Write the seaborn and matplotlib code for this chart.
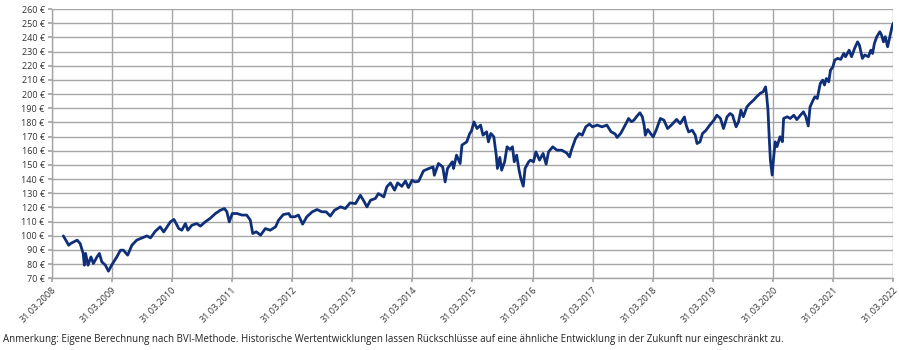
import numpy as np
import pandas as pd
import matplotlib
matplotlib.use("Agg")
import matplotlib.pyplot as plt
import seaborn as sns

# time in fractional years, values in EUR
t_years = [
    2008.44, 2008.53, 2008.56, 2008.67, 2008.72, 2008.77, 2008.79, 2008.81, 2008.85, 2008.90,
    2008.94, 2009.00, 2009.04, 2009.08, 2009.14, 2009.19, 2009.25, 2009.33, 2009.39, 2009.44,
    2009.51, 2009.58, 2009.66, 2009.75, 2009.83, 2009.89, 2009.97, 2010.05, 2010.11, 2010.19,
    2010.22, 2010.28, 2010.36, 2010.41, 2010.47, 2010.51, 2010.58, 2010.66, 2010.72, 2010.80,
    2010.88, 2010.97, 2011.05, 2011.12, 2011.16, 2011.20, 2011.25, 2011.33, 2011.41, 2011.49,
    2011.55, 2011.59, 2011.65, 2011.72, 2011.80, 2011.88, 2011.97, 2012.02, 2012.10, 2012.19,
    2012.22, 2012.29, 2012.35, 2012.42, 2012.49, 2012.58, 2012.66, 2012.74, 2012.81, 2012.88,
    2012.95, 2013.05, 2013.13, 2013.21, 2013.30, 2013.38, 2013.43, 2013.49, 2013.55, 2013.63,
    2013.68, 2013.77, 2013.82, 2013.88, 2013.95, 2014.00, 2014.07, 2014.13, 2014.18, 2014.24,
    2014.29, 2014.35, 2014.43, 2014.52, 2014.59, 2014.61, 2014.68, 2014.75, 2014.79, 2014.83,
    2014.91, 2014.93, 2014.98, 2015.04, 2015.07, 2015.15, 2015.20, 2015.23, 2015.27, 2015.32,
    2015.38, 2015.42, 2015.48, 2015.51, 2015.55, 2015.60, 2015.64, 2015.66, 2015.70, 2015.73,
    2015.78, 2015.82, 2015.87, 2015.91, 2015.94, 2015.98, 2016.02, 2016.05, 2016.09, 2016.12,
    2016.18, 2016.21, 2016.26, 2016.30, 2016.36, 2016.42, 2016.47, 2016.51, 2016.58, 2016.65,
    2016.73, 2016.81, 2016.86, 2016.89, 2016.96, 2017.02, 2017.07, 2017.13, 2017.19, 2017.24,
    2017.32, 2017.40, 2017.48, 2017.55, 2017.62, 2017.65, 2017.71, 2017.80, 2017.84, 2017.89,
    2017.93, 2017.98, 2018.03, 2018.07, 2018.10, 2018.12, 2018.16, 2018.21, 2018.25, 2018.30,
    2018.37, 2018.43, 2018.49, 2018.55, 2018.64, 2018.70, 2018.77, 2018.80, 2018.84, 2018.90,
    2018.95, 2018.98, 2019.03, 2019.07, 2019.13, 2019.19, 2019.26, 2019.31, 2019.37, 2019.42,
    2019.48, 2019.53, 2019.57, 2019.63, 2019.67, 2019.71, 2019.75, 2019.81, 2019.86, 2019.92,
    2019.97, 2020.03, 2020.08, 2020.12, 2020.14, 2020.16, 2020.18, 2020.20, 2020.23, 2020.25,
    2020.28, 2020.31, 2020.36, 2020.40, 2020.42, 2020.48, 2020.53, 2020.59, 2020.64, 2020.70,
    2020.75, 2020.79, 2020.83, 2020.86, 2020.91, 2020.94, 2020.98, 2021.03, 2021.07, 2021.10,
    2021.13, 2021.17, 2021.20, 2021.24, 2021.27, 2021.32, 2021.37, 2021.42, 2021.45, 2021.51,
    2021.55, 2021.60, 2021.65, 2021.68, 2021.73, 2021.77, 2021.83, 2021.87, 2021.90, 2021.93,
    2021.97, 2022.02, 2022.05, 2022.08, 2022.11, 2022.15, 2022.18, 2022.23, 2022.25,
]
values = [
    99.9, 93.3, 94.5, 96.9, 94.5, 87.5, 79.2, 87.5, 79.2, 85.1,
    80.4, 85.1, 87.5, 81.6, 79.2, 75.0, 79.7, 85.1, 89.8, 89.8,
    86.3, 93.3, 96.9, 98.5, 99.9, 98.5, 103.2, 106.3, 102.7, 107.9,
    109.8, 111.5, 105.1, 103.9, 108.6, 103.9, 107.5, 108.6, 106.8, 109.8,
    112.2, 115.7, 118.0, 119.2, 116.9, 109.8, 115.7, 115.7, 114.6, 114.6,
    111.0, 101.6, 102.8, 100.4, 105.1, 103.9, 106.3, 111.0, 115.0, 115.7,
    113.4, 113.4, 114.6, 108.2, 113.4, 116.9, 118.5, 116.9, 116.9, 113.9,
    118.0, 120.4, 119.2, 123.2, 122.7, 128.6, 125.1, 120.4, 125.1, 126.3,
    129.8, 127.4, 134.5, 137.3, 132.2, 137.3, 134.9, 138.7, 134.0, 139.2,
    138.0, 138.5, 145.8, 147.5, 148.6, 142.7, 151.0, 148.6, 138.0, 147.5,
    152.2, 147.5, 156.9, 151.0, 164.0, 166.3, 172.2, 174.1, 180.4, 175.7,
    178.1, 171.0, 173.4, 166.3, 172.2, 169.9, 156.9, 147.5, 155.3, 146.3,
    152.2, 162.8, 160.9, 162.8, 152.2, 156.9, 146.3, 140.4, 135.0, 147.5,
    152.2, 153.4, 152.2, 159.2, 153.4, 158.1, 150.5, 159.2, 162.8, 160.4,
    160.4, 158.5, 155.7, 160.4, 168.7, 172.2, 171.0, 176.9, 178.8, 176.9,
    178.1, 176.9, 178.1, 173.4, 171.8, 169.4, 172.2, 179.3, 182.8, 180.5,
    181.6, 184.4, 186.8, 184.0, 178.1, 171.0, 175.0, 172.0, 169.8, 174.5,
    182.8, 181.6, 175.7, 178.0, 182.1, 179.2, 183.9, 178.0, 173.3, 174.5,
    171.0, 165.1, 166.3, 172.1, 174.5, 178.0, 181.6, 185.1, 182.8, 175.7,
    184.0, 186.3, 185.1, 176.9, 180.4, 188.7, 184.0, 191.0, 193.4, 195.7,
    198.1, 200.5, 201.7, 205.1, 198.1, 188.7, 169.8, 153.4, 142.8, 153.4,
    166.3, 162.9, 169.9, 166.4, 182.8, 184.0, 182.8, 185.1, 182.0, 185.1,
    187.5, 184.0, 177.5, 191.0, 195.7, 198.1, 196.9, 207.5, 209.9, 206.4,
    211.0, 208.7, 216.9, 219.3, 224.0, 225.2, 224.5, 228.7, 226.4, 231.0,
    226.4, 232.2, 236.9, 234.6, 225.2, 227.6, 226.4, 231.0, 228.7, 235.8,
    240.5, 244.0, 241.6, 236.9, 240.5, 233.4, 239.3, 248.7, 250.4,
]
tick_years = list(range(2008, 2023))
y_ticks = list(range(70, 261, 10))
footnote = ("Anmerkung: Eigene Berechnung nach BVI-Methode. Historische Wertentwicklungen lassen "
            "Rückschlüsse auf eine ähnliche Entwicklung in der Zukunft nur eingeschränkt zu.")

t = np.array(t_years)
dates = pd.Timestamp("2008-01-01") + pd.to_timedelta((t - 2008) * 365.25, unit="D")
df = pd.DataFrame({"Datum": dates, "Wert": values})

sns.set_theme(style="white")
plt.rcParams["font.family"] = ["Open Sans", "DejaVu Sans"]

fig = plt.figure(figsize=(8.99, 3.5), dpi=100)
ax = fig.add_axes([0.0575, 0.205, 0.9362, 0.769])

sns.lineplot(data=df, x="Datum", y="Wert", ax=ax, color="#0f2f78", linewidth=2.0)

tick_dates = [pd.Timestamp(f"{y}-03-31") for y in tick_years]
ax.set_xticks(tick_dates)
ax.set_xticklabels([d.strftime("%d.%m.%Y") for d in tick_dates], rotation=45,
                   ha="right", rotation_mode="anchor", fontsize=6.5, color="#333333")
ax.set_xlim(tick_dates[0], tick_dates[-1])
ax.set_ylim(70, 260)
ax.set_yticks(y_ticks)
ax.set_yticklabels([f"{v} €" for v in y_ticks], fontsize=6.5, color="#333333")
ax.grid(True, color="#a6a6a6", linewidth=1.0)
ax.set_axisbelow(True)
for s in ["top", "right"]:
    ax.spines[s].set_visible(False)
for s in ["left", "bottom"]:
    ax.spines[s].set_color("#a6a6a6")
    ax.spines[s].set_linewidth(1.0)
ax.tick_params(axis="both", length=3, color="#a6a6a6", pad=2, bottom=True, left=True)
ax.set_xlabel("")
ax.set_ylabel("")

fig.text(0.003, 0.031, footnote, fontsize=7, color="#222222", ha="left", va="center")

fig.savefig("out.png", dpi=100)
